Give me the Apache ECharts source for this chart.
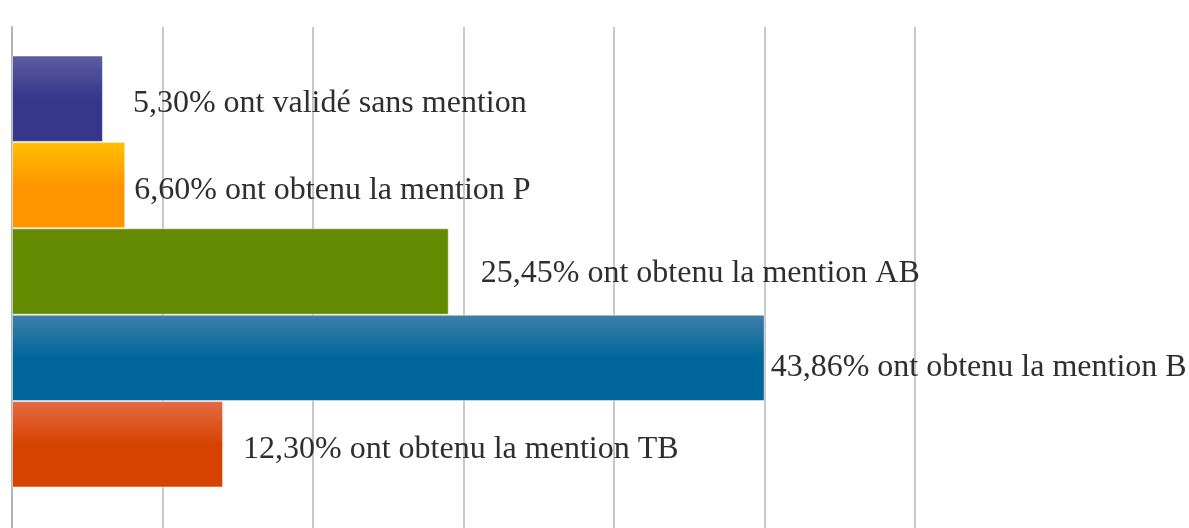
<!DOCTYPE html>
<html>
<head>
<meta charset="utf-8">
<script src="https://cdn.jsdelivr.net/npm/echarts@6/dist/echarts.min.js"></script>
<style>
  html, body { margin: 0; padding: 0; background: #fff; }
  #mentionsChart { width: 1189px; height: 528px; }
</style>
</head>
<body>
<div id="mentionsChart"></div>
<script>
  // valeurs (en %)
  let categories = ['Mentions', '']
  let values = [5.30, 6.60, 25.45, 43.86, 12.30]
  let phrases = [
    'ont validé sans mention',
    'ont obtenu la mention P',
    'ont obtenu la mention AB',
    'ont obtenu la mention B',
    'ont obtenu la mention TB'
  ]
  let xTicks = [0, 8.77, 17.54, 26.31, 35.08, 43.85, 52.62]

  let gradients = [
    ['#5d5da1', '#36368a'],
    ['#ffc000', '#ff9600'],
    ['#638a00', '#638a00'],
    ['#3f7fa8', '#006699'],
    ['#e56a44', '#d64300']
  ]
  // position des étiquettes : distance au bout de la barre, décalage vertical
  let labelDist = [30, 9, 32, 6, 20]
  let labelDy = [5, 5, 2, 10, 5]

  let chart = echarts.init(document.getElementById('mentionsChart'))

  let series = values.map(function (v, i) {
    return {
      name: phrases[i],
      type: 'bar',
      barWidth: 86.4,
      barGap: '0%',
      data: [v, '-'],
      itemStyle: {
        borderColor: 'rgba(255,255,255,0.5)',
        borderWidth: 1,
        color: new echarts.graphic.LinearGradient(0, 0, 0, 1, [
          { offset: 0, color: gradients[i][0] },
          { offset: 0.5, color: gradients[i][1] },
          { offset: 1, color: gradients[i][1] }
        ])
      },
      label: {
        show: true,
        position: 'right',
        distance: labelDist[i],
        offset: [0, labelDy[i]],
        fontFamily: 'Liberation Serif',
        fontSize: 32,
        color: '#2e2e2e',
        formatter: function (p) {
          return p.value.toFixed(2).replace('.', ',') + '% ' + phrases[i]
        }
      }
    }
  })

  chart.setOption({
    animation: false,
    grid: {
      left: 12,
      width: 903,
      top: 27,
      height: 978,
      outerBoundsMode: 'none'
    },
    xAxis: {
      type: 'value',
      min: xTicks[0],
      max: xTicks[xTicks.length - 1],
      interval: xTicks[1] - xTicks[0],
      axisLine: { show: false },
      axisTick: { show: false },
      axisLabel: { show: false },
      splitLine: { lineStyle: { color: '#c8c8c8', width: 2 } }
    },
    yAxis: {
      type: 'category',
      inverse: true,
      data: categories,
      axisLine: { show: true, lineStyle: { color: '#b4b4b4', width: 2 } },
      axisTick: { show: false },
      axisLabel: { show: false }
    },
    series: series
  })
</script>
</body>
</html>
